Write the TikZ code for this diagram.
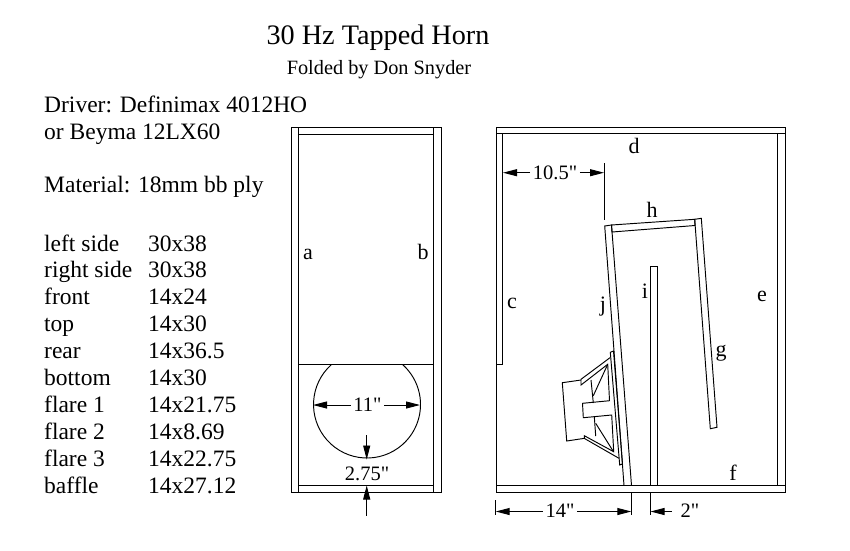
\documentclass[tikz,border=0pt]{standalone}
\usepackage{fontspec}
\setmainfont{Liberation Serif}
\newfontfamily\dimfont{Liberation Serif}
\usetikzlibrary{arrows.meta}
\tikzset{
  ln/.style={line width=0.95pt,line cap=butt,line join=miter},
  dimline/.style={ln,-{Triangle[length=14pt,width=7pt]}},
  txt/.style={anchor=base west,inner sep=0pt,font=\fontsize{23.5}{27}\selectfont},
  lab/.style={anchor=base,inner sep=0pt,font=\fontsize{22}{26}\selectfont},
  dimtxt/.style={anchor=base,inner sep=0pt,font=\dimfont\fontsize{20.5}{24}\selectfont}
}
\begin{document}
\begin{tikzpicture}[x=1pt,y=-1pt]
\useasboundingbox (0,0) rectangle (850,550);
% titles
\node[anchor=base,inner sep=0pt,font=\fontsize{28.2}{30}\selectfont] (title) at (378,44) {30 Hz Tapped Horn};
\node[anchor=base,inner sep=0pt,font=\fontsize{20.3}{24}\selectfont] (subtitle) at (379,74) {Folded by Don Snyder};
% spec text
\node[txt] (driver) at (44,112) {Driver: Definimax 4012HO};
\node[txt] (beyma) at (44,139) {or Beyma 12LX60};
\node[txt] (material) at (44,192.5) {Material: 18mm bb ply};
\foreach \n/\a/\b [count=\k from 0] in {l1/left side/30x38,l2/right side/30x38,l3/front/14x24,l4/top/14x30,l5/rear/14x36.5,l6/bottom/14x30,l7/flare 1/14x21.75,l8/flare 2/14x8.69,l9/flare 3/14x22.75,l10/baffle/14x27.12}{
  \node[txt] (\n a) at (44,251+26.9*\k) {\a};
  \node[txt] (\n b) at (148,251+26.9*\k) {\b};
}
% left view
\draw[ln] (291.5,127) rectangle (441,492.5);
\draw[ln] (298.5,127) -- (298.5,492.5);
\draw[ln] (433.5,127) -- (433.5,492.5);
\draw[ln] (298.5,134) -- (433.5,134);
\draw[ln] (298.5,364.5) -- (433.5,364.5);
\draw[ln] (298.5,485.5) -- (433.5,485.5);
\draw[ln] (331.5,364.5) arc[start angle=228.4,end angle=-48.4,radius=53.5];
% right view
\draw[ln] (496,127) rectangle (785.5,492.5);
\draw[ln] (496,133.5) -- (785.5,133.5);
\draw[ln] (496,485.5) -- (785.5,485.5);
\draw[ln] (777.5,133.5) -- (777.5,485.5);
\draw[ln] (502.5,133.5) -- (502.5,364.5) -- (496,364.5);
% panels
\draw[ln] (624,485.5) -- (604.7,226) -- (611.5,225) -- (631.5,485.5);
\draw[ln] (611.5,225) -- (694.7,219.3) -- (695,225.5) -- (612,232) -- cycle;
\draw[ln] (694.7,219.3) -- (701.3,218.3) -- (717,427.3) -- (710.3,428.7) -- cycle;
\draw[ln] (650.5,485.5) -- (650.5,266) -- (657.7,266) -- (657.7,485.5);
% driver
\draw[ln] (610.3,352.3) -- (613.5,351) -- (622.5,464) -- (619.7,465) -- cycle;
\draw[ln] (610,357.7) -- (581,379.3) -- (581,385) -- (607.7,364.3) -- (609.5,400.7) -- (582.5,403.3) -- (583.3,417.7) -- (611.7,415) -- (613.7,451.7) -- (584.3,435.7) -- (584.5,438.5) -- (619,458.3);
\draw[ln] (581,380) -- (562.3,382.7) -- (566.7,441) -- (584.5,438.3);
\draw[ln] (591,380) -- (593.3,403);
\draw[ln] (607.7,364.3) -- (593.3,395.7);
\draw[ln] (594.3,416.7) -- (595.7,436);
\draw[ln] (595.7,423.3) -- (613.5,451.7);
% dimensions
\node[dimtxt] (d11) at (367.5,411.7) {11"};
\coordinate (cl) at (313,405); \coordinate (cr) at (420,405);
\draw[dimline] (d11.west |- cl) ++(-2.5,0) -- (cl);
\draw[dimline] (d11.east |- cr) ++(2.5,0) -- (cr);
\node[dimtxt] (d275) at (367,480) {2.75"};
\coordinate (a1) at (366.7,435); \coordinate (a2) at (366.7,459.5);
\coordinate (b1) at (366.7,515.5); \coordinate (b2) at (366.7,485.5);
\draw[dimline] (a1) -- (a2);
\draw[dimline] (b1) -- (b2);
\node[dimtxt] (d105) at (555,179) {10.5"};
\coordinate (e1) at (604,163); \coordinate (e2) at (604,219.5);
\draw[ln] (e1) -- (e2);
\coordinate (w1) at (503,172.7); \coordinate (w2) at (604,172.7);
\draw[dimline] (d105.west |- w1) ++(-2.5,0) -- (w1);
\draw[dimline] (d105.east |- w2) ++(2.5,0) -- (w2);
\node[dimtxt] (d14) at (560,517) {14"};
\coordinate (f1) at (495.7,500); \coordinate (f2) at (495.7,515);
\coordinate (g1) at (631.3,492.5); \coordinate (g2) at (631.3,515);
\coordinate (k1) at (650.5,492.5); \coordinate (k2) at (650.5,515);
\draw[ln] (f1) -- (f2);
\draw[ln] (g1) -- (g2);
\draw[ln] (k1) -- (k2);
\coordinate (m1) at (495.7,511.5); \coordinate (m2) at (631.3,511.5);
\coordinate (m3) at (671.7,511.5); \coordinate (m4) at (650.5,511.5);
\draw[dimline] (d14.west |- m1) ++(-2.5,0) -- (m1);
\draw[dimline] (d14.east |- m2) ++(2.5,0) -- (m2);
\draw[dimline] (m3) -- (m4);
\node[dimtxt] (d2) at (690,517) {2"};
% labels
\node[lab] (la) at (308,259) {a};
\node[lab] (lb) at (423,259) {b};
\node[lab] (lc) at (512,308) {c};
\node[lab] (ld) at (634,153) {d};
\node[lab] (le) at (762,301) {e};
\node[lab] (lf) at (733,480) {f};
\node[lab] (lg) at (721,356) {g};
\node[lab] (lh) at (652,217) {h};
\node[lab] (li) at (645,298) {i};
\node[lab] (lj) at (603,311) {j};
\end{tikzpicture}
\end{document}
